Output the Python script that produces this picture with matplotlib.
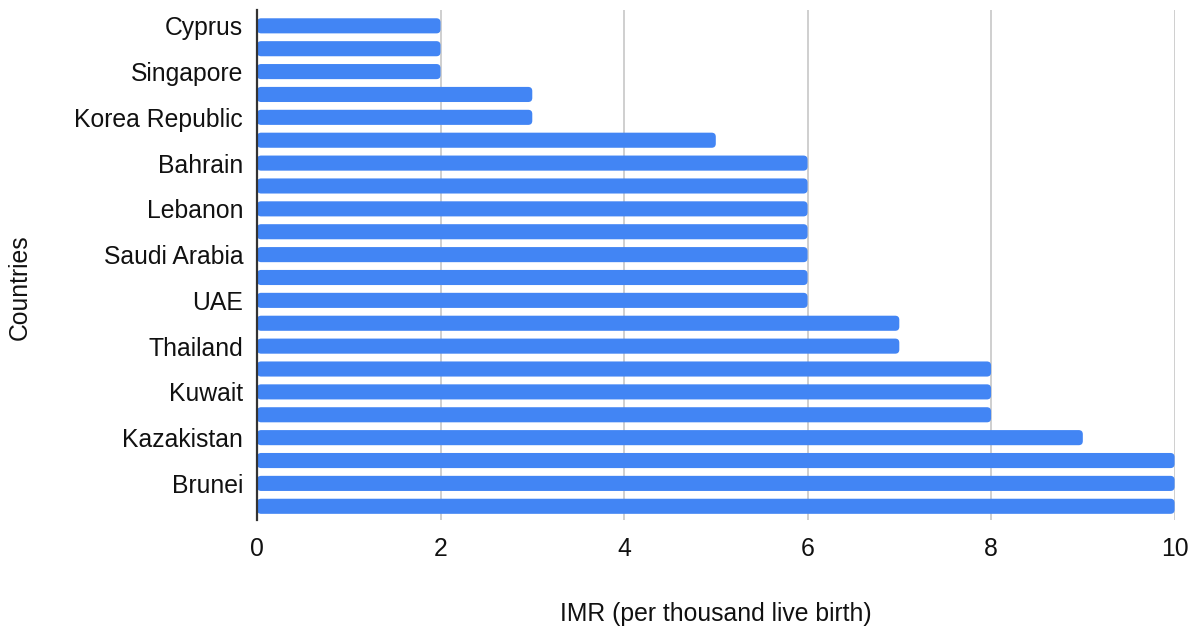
import matplotlib.pyplot as plt
from matplotlib.patches import FancyBboxPatch

# infant mortality per country, top to bottom
labels = ["Cyprus", "", "Singapore", "", "Korea Republic", "", "Bahrain", "",
          "Lebanon", "", "Saudi Arabia", "", "UAE", "", "Thailand", "",
          "Kuwait", "", "Kazakistan", "", "Brunei", ""]
imr = [2, 2, 2, 3, 3, 5, 6, 6, 6, 6, 6, 6, 6, 7, 7, 8, 8, 8, 9, 10, 10, 10]
xticks = [0, 2, 4, 6, 8, 10]

plt.rcParams['font.family'] = ['Liberation Sans', 'DejaVu Sans']
txt = "#111111"

fig = plt.figure(figsize=(12.01, 6.33), dpi=100)
ax = fig.add_axes([0.214, 0.1785, 0.764, 0.806])

pos = list(range(len(imr)))
bars = ax.barh(pos, imr, height=0.66, color="#4285F4", zorder=3)

# swap plain rectangles for ones with slightly rounded ends
for b in bars:
    x0, y0 = b.get_xy()
    w, h = b.get_width(), b.get_height()
    b.set_visible(False)
    ax.add_patch(FancyBboxPatch((x0, y0), w, h,
                                boxstyle="round,pad=0,rounding_size=0.045",
                                mutation_aspect=4.0, fc="#4285F4", ec="none",
                                zorder=3))

ax.set_xlim(0, 10)
ax.set_ylim(len(imr) - 0.4, -0.7)
ax.set_xticks(xticks)
ax.set_yticks(pos)
ax.set_yticklabels(labels)
ax.tick_params(axis='y', length=0, pad=10, labelsize=17.8, labelcolor=txt)
ax.tick_params(axis='x', length=0, pad=12, labelsize=17.8, labelcolor=txt)
ax.grid(axis='x', color="#cccccc", linewidth=1.3, zorder=0)
for s in ["top", "right", "bottom"]:
    ax.spines[s].set_visible(False)
ax.spines["left"].set_color("#333333")
ax.spines["left"].set_linewidth(1.6)
ax.spines["left"].set_zorder(4)

ax.set_xlabel("IMR (per thousand live birth)", fontsize=17.8, color=txt, labelpad=30)
ax.set_ylabel("Countries", fontsize=17.8, color=txt)
ax.yaxis.set_label_coords(-0.245, 0.457)

fig.savefig("out.png", dpi=100)
